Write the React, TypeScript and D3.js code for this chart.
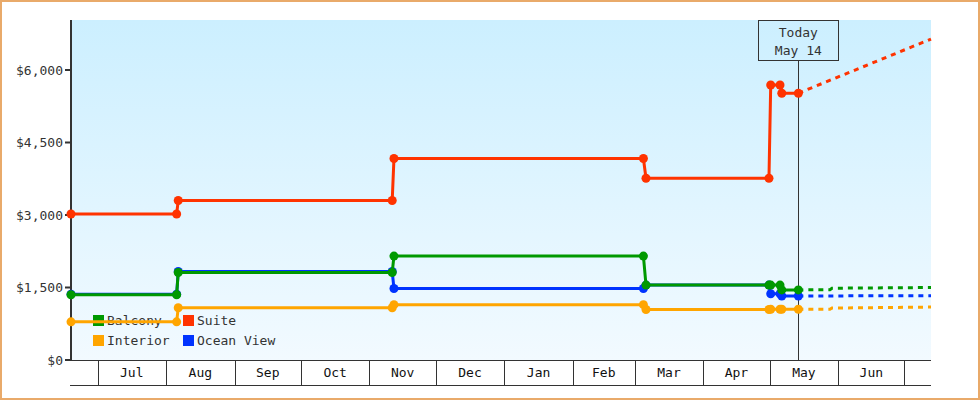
import React from "react";
import * as d3 from "d3";

const W = 980;
const H = 400;

const parse = d3.timeParse("%Y-%m-%dT%H");

const historyDates = [
  "2022-06-19T00", "2022-08-05T19", "2022-08-06T12", "2022-11-11T07",
  "2022-11-12T02", "2023-03-04T22", "2023-03-06T02", "2023-04-30T17",
  "2023-05-01T12", "2023-05-05T17", "2023-05-06T12", "2023-05-14T00",
];

const suiteValues = [3020, 3020, 3300, 3300, 4170, 4170, 3760, 3760, 5690, 5690, 5520, 5520];
const balconyValues = [1350, 1350, 1810, 1810, 2150, 2150, 1550, 1550, 1550, 1550, 1450, 1450];
const oceanValues = [1362, 1362, 1830, 1830, 1480, 1480, 1550, 1550, 1370, 1370, 1325, 1325];
const interiorValues = [790, 790, 1080, 1080, 1145, 1145, 1045, 1045, 1050, 1050, 1050, 1050];

const projDates4 = ["2023-05-14T00", "2023-05-28T07", "2023-05-29T05", "2023-07-13T00"];
const projDates2 = ["2023-05-14T00", "2023-07-13T00"];
const suiteProj = [5520, 6640];
const balconyProj = [1450, 1455, 1485, 1500];
const oceanProj = [1325, 1330];
const interiorProj = [1050, 1050, 1075, 1095];

const yTicks = [0, 1500, 3000, 4500, 6000];
const todayDate = "2023-05-14T00";
const todayLabel = ["Today", "May 14"];

const series = [
  { name: "Ocean View", color: "#0033ff", values: oceanValues, proj: oceanProj, projDates: projDates2 },
  { name: "Interior", color: "#ffa500", values: interiorValues, proj: interiorProj, projDates: projDates4 },
  { name: "Balcony", color: "#009900", values: balconyValues, proj: balconyProj, projDates: projDates4 },
  { name: "Suite", color: "#ff3300", values: suiteValues, proj: suiteProj, projDates: projDates2 },
];

const legendOrder = ["Balcony", "Suite", "Interior", "Ocean View"];

const FONT = "'DejaVu Sans Mono', monospace";

export default function App() {
  const left = 71;
  const right = 931;
  const top = 20;
  const bottom = 360;

  const x = d3
    .scaleTime()
    .domain([parse("2022-06-19T00")!, parse("2023-07-13T00")!])
    .range([left, right]);
  const y = d3.scaleLinear().domain([0, (340 / 72.5) * 1500]).range([bottom, top]);

  const line = d3
    .line<[Date, number]>()
    .x((d) => x(d[0]))
    .y((d) => y(d[1]));

  const monthStarts = d3.timeMonth.range(new Date(2022, 6, 1), new Date(2023, 7, 1));
  const fmt = d3.timeFormat("%b");
  const todayX = x(parse(todayDate)!);

  return (
    <svg
      width={W}
      height={H}
      style={{ position: "absolute", left: 0, top: 0, display: "block" }}
      fontFamily={FONT}
      fontSize={13}
    >
      <defs>
        <linearGradient id="bg" x1="0" y1="0" x2="0" y2="1">
          <stop offset="0" stopColor="#ccefff" />
          <stop offset="1" stopColor="#f2faff" />
        </linearGradient>
      </defs>
      <rect x={0} y={0} width={W} height={H} fill="#ffffff" />
      <rect x={1} y={1} width={W - 2} height={H - 2} fill="none" stroke="#e9aa6a" strokeWidth={2} />
      <rect x={left} y={top} width={right - left} height={bottom - top} fill="url(#bg)" />

      {/* y axis */}
      <line x1={left} x2={left} y1={top} y2={bottom} stroke="#333" strokeWidth={2} />
      {yTicks.map((t) => (
        <g key={t}>
          <line x1={65} x2={left} y1={y(t)} y2={y(t)} stroke="#333" strokeWidth={2} />
          <text x={63} y={y(t)} dy="0.35em" textAnchor="end" fill="#333">
            {"$" + d3.format(",")(t)}
          </text>
        </g>
      ))}

      {/* month band */}
      <line x1={left - 1} x2={right} y1={bottom + 0.5} y2={bottom + 0.5} stroke="#333" strokeWidth={1} />
      <line x1={left - 1} x2={right} y1={385.5} y2={385.5} stroke="#333" strokeWidth={1} />
      {monthStarts.map((m, i) => {
        const xm = Math.round(x(m)) + 0.5;
        const next = monthStarts[i + 1];
        return (
          <g key={i}>
            <line x1={xm} x2={xm} y1={bottom} y2={385} stroke="#333" strokeWidth={1} />
            {next && (
              <text x={(x(m) + x(next)) / 2} y={377} textAnchor="middle" fill="#111">
                {fmt(m)}
              </text>
            )}
          </g>
        );
      })}

      {/* legend */}
      {legendOrder.map((n, i) => {
        const s = series.find((d) => d.name === n)!;
        const lx = i % 2 === 0 ? 93 : 183;
        const ly = i < 2 ? 315 : 335;
        return (
          <g key={n}>
            <rect x={lx} y={ly} width={11} height={11} fill={s.color} />
            <text x={lx + 14} y={ly + 10} fill="#333">
              {n}
            </text>
          </g>
        );
      })}

      {/* today marker */}
      <line x1={Math.round(todayX) + 0.5} x2={Math.round(todayX) + 0.5} y1={60} y2={bottom} stroke="#333" strokeWidth={1} />
      <rect x={758.5} y={20.5} width={80} height={40} fill="none" stroke="#333" strokeWidth={1} />
      <text x={todayX} y={37} textAnchor="middle" fill="#333">
        {todayLabel[0]}
      </text>
      <text x={todayX} y={55} textAnchor="middle" fill="#333">
        {todayLabel[1]}
      </text>

      {/* series */}
      {series.map((s) => {
        const pts: [Date, number][] = historyDates.map((d, i) => [parse(d)!, s.values[i]]);
        const proj: [Date, number][] = s.projDates.map((d, i) => [parse(d)!, s.proj[i]]);
        return (
          <g key={s.name}>
            <path d={line(proj)!} fill="none" stroke={s.color} strokeWidth={3} strokeDasharray="5,5" />
            <path d={line(pts)!} fill="none" stroke={s.color} strokeWidth={3} />
            {pts.map((p, i) => (
              <circle key={i} cx={x(p[0])} cy={y(p[1])} r={4.5} fill={s.color} />
            ))}
          </g>
        );
      })}
    </svg>
  );
}
